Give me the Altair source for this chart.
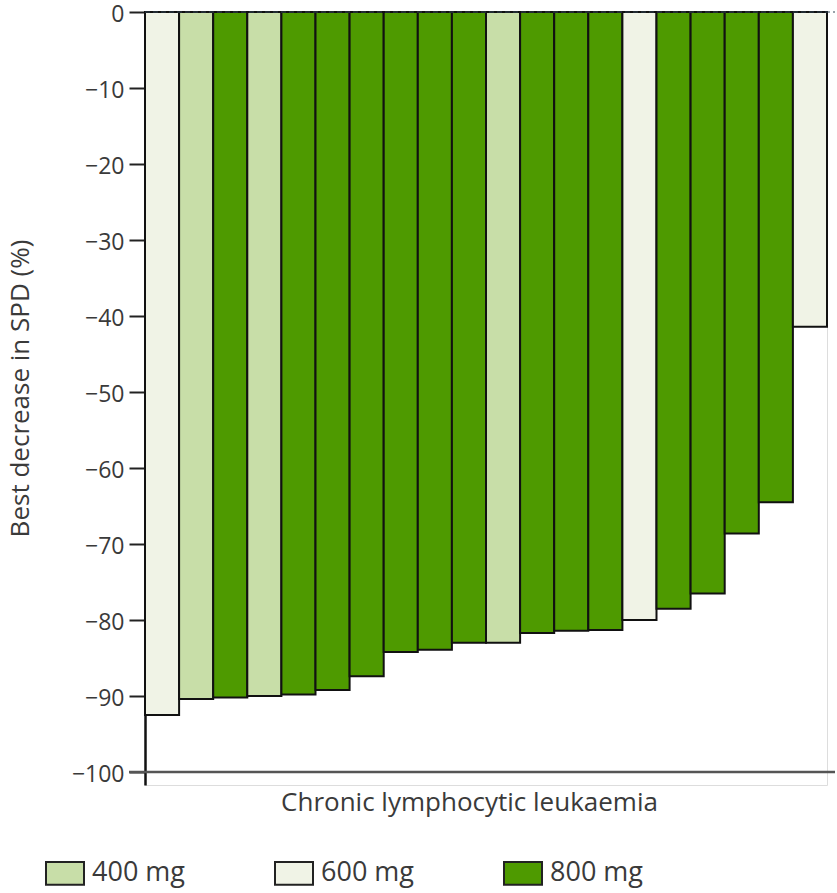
import altair as alt
import pandas as pd

# Best percentage decrease in SPD per patient, sorted by depth of response
doses = ["600 mg", "400 mg", "800 mg", "400 mg", "800 mg", "800 mg", "800 mg",
         "800 mg", "800 mg", "800 mg", "400 mg", "800 mg", "800 mg", "800 mg",
         "600 mg", "800 mg", "800 mg", "800 mg", "800 mg", "600 mg"]
decrease = [-92.5, -90.4, -90.2, -90.0, -89.8, -89.2, -87.4, -84.2, -83.9, -83.0,
            -83.0, -81.7, -81.4, -81.3, -80.0, -78.5, -76.5, -68.6, -64.5, -41.4]
patients = list(range(1, len(decrease) + 1))

dose_levels = ["400 mg", "600 mg", "800 mg"]
dose_colors = ["#c8dea8", "#f0f3e6", "#4e9a00"]
y_ticks = [0, -10, -20, -30, -40, -50, -60, -70, -80, -90, -100]

df = pd.DataFrame({"patient": patients, "dose": doses, "decrease": decrease})

FONT = "Open Sans"
TEXT = "#3a3a3a"

y_scale = alt.Scale(domain=[-101.7, 0], nice=False, zero=False)

bars = alt.Chart(df).mark_bar(stroke="#111111", strokeWidth=2).encode(
    x=alt.X("patient:O",
            scale=alt.Scale(paddingInner=0, paddingOuter=0),
            axis=alt.Axis(labels=False, ticks=False, domain=False,
                          title="Chronic lymphocytic leukaemia",
                          titleFont=FONT, titleFontSize=26, titleFontWeight="normal",
                          titleColor=TEXT, titleX=324, titleY=4, titleAnchor="middle")),
    y=alt.Y("decrease:Q", scale=y_scale,
            axis=alt.Axis(values=y_ticks, format="d",
                          title="Best decrease in SPD (%)",
                          titleFont=FONT, titleFontSize=26, titleFontWeight="normal",
                          titleColor=TEXT, titleX=-112, titleY=376,
                          labelFont=FONT, labelFontSize=23, labelColor=TEXT,
                          labelPadding=5, labelOffset=2.5,
                          tickSize=16, tickWidth=2, tickColor="#222222",
                          domainColor="#111111", domainWidth=2.5, grid=False)),
    y2=alt.datum(0),
    fill=alt.Fill("dose:N",
                  scale=alt.Scale(domain=dose_levels, range=dose_colors),
                  legend=alt.Legend(title=None, orient="none", legendX=-100, legendY=841,
                                    direction="horizontal", columns=3, columnPadding=86,
                                    symbolType="M-1,-0.6H1V0.6H-1Z", symbolSize=1444,
                                    symbolStrokeColor="#222222", symbolStrokeWidth=2,
                                    symbolOpacity=1,
                                    labelFont=FONT, labelFontSize=27, labelColor=TEXT,
                                    labelOffset=7)),
)

# baseline at -100 extending across the panel
base_rule = alt.Chart(pd.DataFrame({"y": [-100]})).mark_rule(
    color="#555555", strokeWidth=2.5
).encode(y=alt.Y("y:Q", scale=y_scale), x=alt.value(-16), x2=alt.value(690))

# dashed reference line at 0
zero_rule = alt.Chart(pd.DataFrame({"y": [0]})).mark_rule(
    color="#334455", strokeWidth=1, strokeDash=[5, 3]
).encode(y=alt.Y("y:Q", scale=y_scale), x=alt.value(0), x2=alt.value(690))

chart = alt.layer(base_rule, bars, zero_rule).properties(
    width=682, height=773,
    autosize=alt.AutoSizeParams(type="none"),
    padding={"left": 145, "top": 12, "right": 10, "bottom": 108},
).configure_view(stroke=None).configure(background="white")

chart.save("out.html", embed_options={"renderer": "svg", "actions": False})
